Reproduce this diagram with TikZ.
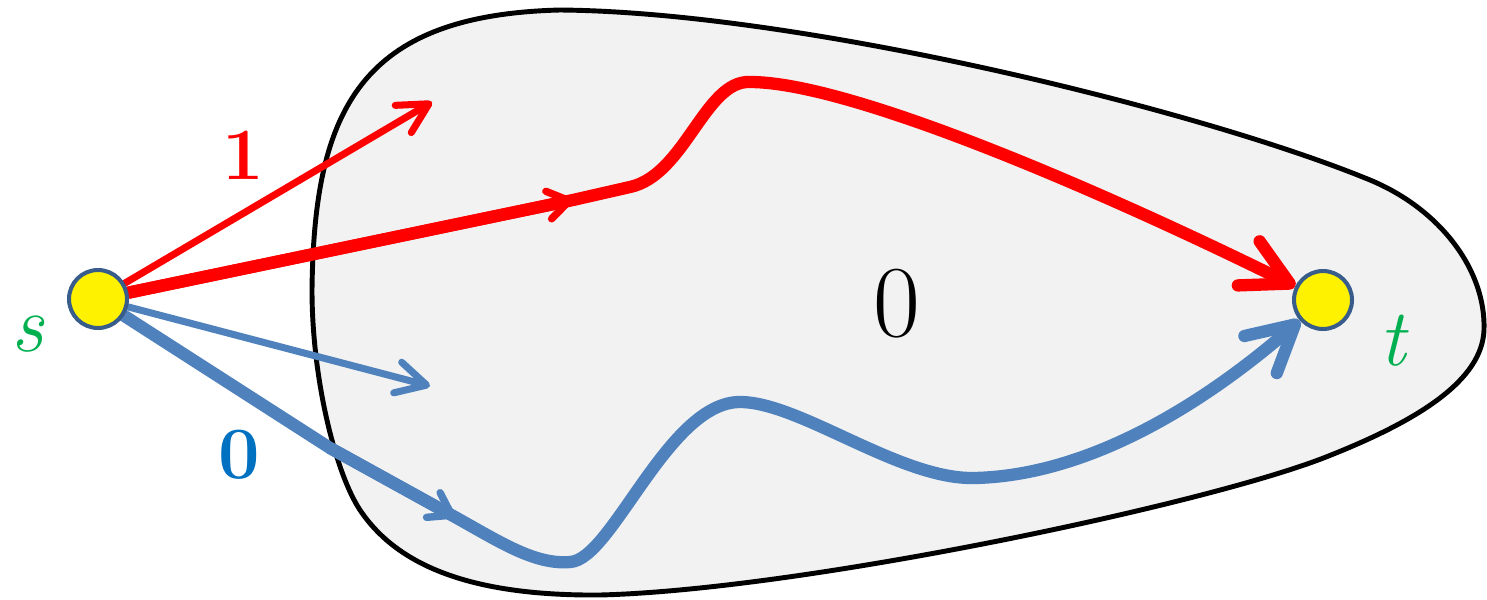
\documentclass[tikz,border=0pt]{standalone}
\usetikzlibrary{arrows.meta}
\definecolor{blobgray}{RGB}{242,242,242}
\definecolor{pathblue}{RGB}{79,129,189}
\definecolor{labelblue}{RGB}{0,112,192}
\definecolor{labelgreen}{RGB}{0,176,80}
\definecolor{ringblue}{RGB}{56,93,138}
\pgfdeclarelayer{bg}
\pgfdeclarelayer{fg}
\pgfsetlayers{bg,main,fg}
\begin{document}
\begin{tikzpicture}[x=0.02cm,y=-0.02cm,
  vertex/.style={circle, fill=yellow, draw=ringblue, line width=2.3pt, minimum size=33pt, inner sep=0pt},
  blob/.style={draw=black, fill=blobgray, line width=2.8pt},
  thinarrow/.style={line width=4pt, line cap=round, -{Straight Barb[length=17pt,width=18pt,round]}},
  thickpath/.style={line width=7pt, line cap=round, line join=round, -{Straight Barb[length=26pt,width=28pt,round]}},
  midarrow/.style={line width=7pt, -{Straight Barb[length=12pt,width=16pt,line width=4.2pt,round]}},
  lab/.style={inner sep=0pt},
]
\useasboundingbox (0,0) rectangle (1487,599);

\begin{pgfonlayer}{bg}
\draw[blob] (312,290)
  .. controls (314,110) and (360,15) .. (560,10)
  .. controls (800,12) and (1200,110) .. (1370,180)
  .. controls (1440,209) and (1486,270) .. (1484,330)
  .. controls (1482,380) and (1420,420) .. (1326,457)
  .. controls (1204,505) and (800,590) .. (600,595)
  .. controls (480,596) and (400,570) .. (360,510)
  .. controls (336,474) and (312,380) .. (312,290) -- cycle;
\end{pgfonlayer}

\begin{pgfonlayer}{fg}
\node[vertex] (s) at (98,299) {};
\node[vertex] (t) at (1323,300) {};
\node[lab, text=labelgreen] (slab) at (28,334) {\fontsize{46}{50}\selectfont\itshape s};
\node[lab, text=labelgreen] (tlab) at (1393,341) {\fontsize{46}{50}\selectfont\itshape t};
\node[lab, text=red] (one) at (243,155) {\fontsize{42}{46}\selectfont\bfseries 1};
\node[lab, text=labelblue] (zero) at (239,455) {\fontsize{42}{46}\selectfont\bfseries 0};
\node[lab, text=black] (mid) at (897,304) {\fontsize{58}{62}\selectfont 0};
\end{pgfonlayer}

\coordinate (redend) at (432,102);
\coordinate (blueend) at (430,386);
\coordinate (rm) at (573,200);
\coordinate (r1) at (630,187);
\coordinate (r2) at (750,82);
\coordinate (b1) at (330,448);
\coordinate (bm) at (455,517);
\coordinate (b2) at (570,562);
\coordinate (b3) at (740,402);
\coordinate (b4) at (975,478);

% thin arrows
\draw[thinarrow, draw=red] (s) -- (redend);
\draw[thinarrow, draw=pathblue] (s) -- (blueend);

% thick red path
\draw[thickpath, draw=red] (s) -- (rm) -- (r1)
  .. controls (685,175) and (705,80) .. (r2)
  .. controls (850,82) and (1100,190) .. (t);
\draw[midarrow, draw=red] (s) -- (rm);

% thick blue path
\draw[thickpath, draw=pathblue] (s) -- (b1) -- (bm)
  .. controls (500,542) and (535,565) .. (b2)
  .. controls (612,560) and (668,402) .. (b3)
  .. controls (800,402) and (900,480) .. (b4)
  .. controls (1100,475) and (1220,390) .. (t);
\draw[midarrow, draw=pathblue] (b1) -- (bm);
\end{tikzpicture}
\end{document}
